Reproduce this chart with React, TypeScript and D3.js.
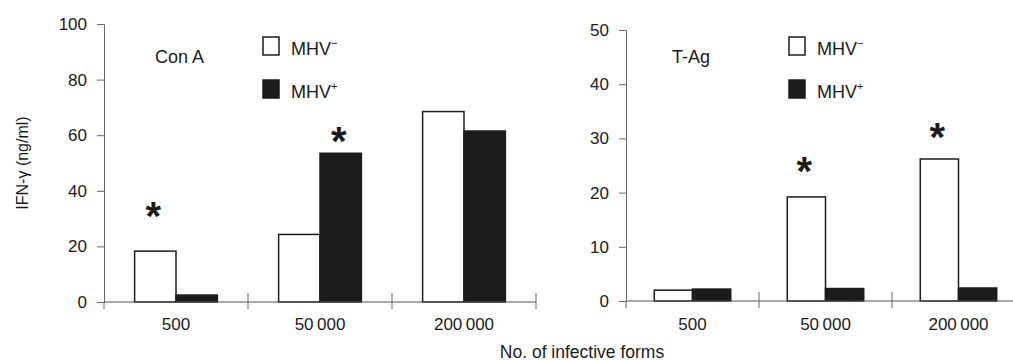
import { useEffect, useRef } from "react";
import * as d3 from "d3";

const categories = ["500", "50\u2009000", "200\u2009000"];
const groups = ["neg", "pos"];

const conANeg = [18.3, 24.3, 68.5];
const conAPos = [2.5, 53.5, 61.5];
const conAStars = [
  { cat: 0, group: "neg", level: 34.2 },
  { cat: 1, group: "pos", level: 61.2 },
];

const tAgNeg = [2.0, 19.2, 26.2];
const tAgPos = [2.2, 2.3, 2.4];
const tAgStars = [
  { cat: 1, group: "neg", level: 25.6 },
  { cat: 2, group: "neg", level: 31.9 },
];

const conATicks = [0, 20, 40, 60, 80, 100];
const tAgTicks = [0, 10, 20, 30, 40, 50];

const FONT = "'Liberation Sans', Arial, sans-serif";
const INK = "#1a1a1a";

export default function App() {
  const svgRef = useRef<SVGSVGElement>(null);

  useEffect(() => {
    const width = 1013;
    const height = 362;
    const svg = d3.select(svgRef.current);
    svg.attr("viewBox", `0 0 ${width} ${height}`);
    svg.selectAll("*").remove();

    const panels = [
      {
        title: "Con A",
        neg: conANeg,
        pos: conAPos,
        stars: conAStars,
        ticks: conATicks,
        max: 100,
        xRange: [104, 536],
        yRange: [302, 24],
        titleX: 155,
        legendX: 263,
      },
      {
        title: "T-Ag",
        neg: tAgNeg,
        pos: tAgPos,
        stars: tAgStars,
        ticks: tAgTicks,
        max: 50,
        xRange: [626, 1025],
        yRange: [301, 30],
        titleX: 672,
        legendX: 789,
      },
    ];

    panels.forEach((p) => {
      const g = svg.append("g");
      const x = d3.scaleBand().domain(categories).range(p.xRange as [number, number]).padding(0);
      const sub = d3
        .scaleBand()
        .domain(groups)
        .range([0, x.bandwidth()])
        .paddingInner(0)
        .paddingOuter(0.74);
      const y = d3.scaleLinear().domain([0, p.max]).range(p.yRange as [number, number]);

      // bars
      const rows = categories.map((c, i) => ({ c, neg: p.neg[i], pos: p.pos[i] }));
      rows.forEach((r) => {
        groups.forEach((k) => {
          const v = k === "neg" ? r.neg : r.pos;
          g.append("rect")
            .attr("x", (x(r.c) as number) + (sub(k) as number))
            .attr("y", y(v))
            .attr("width", sub.bandwidth())
            .attr("height", y(0) - y(v))
            .attr("fill", k === "neg" ? "#fff" : "#1c1c1c")
            .attr("stroke", "#1c1c1c")
            .attr("stroke-width", 1.5);
        });
      });

      // y axis
      const yAxis = g
        .append("g")
        .attr("transform", `translate(${p.xRange[0]},0)`)
        .call(d3.axisLeft(y).tickValues(p.ticks).tickSize(7).tickPadding(10).tickFormat(d3.format("d")));
      yAxis.select(".domain").attr("stroke", "#666").attr("stroke-width", 1);
      yAxis.selectAll(".tick line").attr("stroke", "#666");
      yAxis
        .selectAll(".tick text")
        .attr("fill", INK)
        .style("font-family", FONT)
        .style("font-size", "17px");

      // x axis
      g.append("line")
        .attr("x1", p.xRange[0])
        .attr("x2", p.xRange[1])
        .attr("y1", y(0))
        .attr("y2", y(0))
        .attr("stroke", "#555")
        .attr("stroke-width", 1);
      const bounds = categories.map((c) => x(c) as number).concat([p.xRange[1]]);
      bounds.forEach((bx) => {
        g.append("line")
          .attr("x1", bx)
          .attr("x2", bx)
          .attr("y1", bx === p.xRange[0] ? y(0) : y(0) - 9)
          .attr("y2", y(0) + 7)
          .attr("stroke", "#666")
          .attr("stroke-width", 1);
      });
      categories.forEach((c) => {
        g.append("text")
          .attr("x", (x(c) as number) + x.bandwidth() / 2)
          .attr("y", 330)
          .attr("text-anchor", "middle")
          .attr("fill", INK)
          .style("font-family", FONT)
          .style("font-size", "17px")
          .text(c);
      });

      // significance stars
      p.stars.forEach((s) => {
        const c = categories[s.cat];
        g.append("text")
          .attr("x", (x(c) as number) + (sub(s.group) as number) + sub.bandwidth() / 2 - 2)
          .attr("y", y(s.level) + 23)
          .attr("text-anchor", "middle")
          .attr("fill", INK)
          .style("font-family", FONT)
          .style("font-size", "40px")
          .style("font-weight", "bold")
          .text("*");
      });

      // panel title
      g.append("text")
        .attr("x", p.titleX)
        .attr("y", 63)
        .attr("fill", INK)
        .style("font-family", FONT)
        .style("font-size", "18px")
        .text(p.title);

      // legend
      const legend = [
        { key: "neg", sign: "\u2212", top: 37 },
        { key: "pos", sign: "+", top: 80 },
      ];
      legend.forEach((l) => {
        g.append("rect")
          .attr("x", p.legendX)
          .attr("y", l.top)
          .attr("width", 16)
          .attr("height", 18)
          .attr("fill", l.key === "neg" ? "#fff" : "#1c1c1c")
          .attr("stroke", "#1c1c1c")
          .attr("stroke-width", 1.5);
        const t = g
          .append("text")
          .attr("x", p.legendX + 28)
          .attr("y", l.top + 18)
          .attr("fill", INK)
          .style("font-family", FONT)
          .style("font-size", "18px");
        t.append("tspan").text("MHV");
        t.append("tspan")
          .attr("dy", -8)
          .style("font-size", "11px")
          .text(l.sign);
      });
    });

    // axis titles
    svg
      .append("text")
      .attr("transform", `translate(28,163) rotate(-90)`)
      .attr("text-anchor", "middle")
      .attr("fill", INK)
      .style("font-family", FONT)
      .style("font-size", "16px")
      .text("IFN-\u03b3 (ng/ml)");

    svg
      .append("text")
      .attr("x", 582)
      .attr("y", 358)
      .attr("text-anchor", "middle")
      .attr("fill", INK)
      .style("font-family", FONT)
      .style("font-size", "17.5px")
      .text("No. of infective forms");
  }, []);

  return (
    <svg
      ref={svgRef}
      width={1013}
      height={362}
      style={{ position: "absolute", left: 0, top: 0, background: "#fff" }}
    />
  );
}
